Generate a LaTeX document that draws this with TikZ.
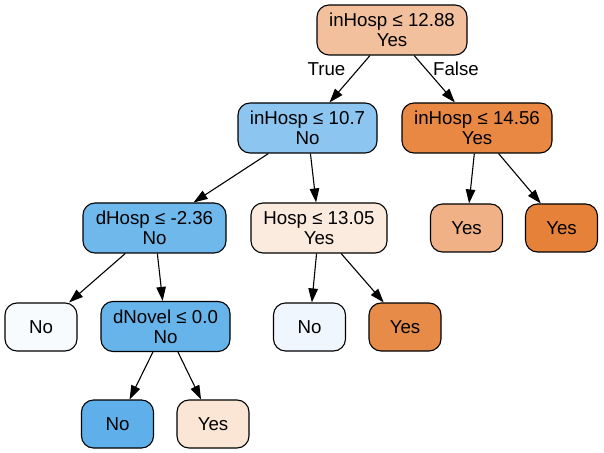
\documentclass[tikz,border=0pt]{standalone}
\usepackage{fontspec}
\setmainfont{Liberation Sans}
\usetikzlibrary{arrows.meta}

% node fills (class "Yes" in orange, class "No" in blue)
\definecolor{cRoot}{HTML}{F2C09C}
\definecolor{cLtA}{HTML}{8BC5F0}
\definecolor{cRtA}{HTML}{E88843}
\definecolor{cDHosp}{HTML}{6FB8EC}
\definecolor{cHosp}{HTML}{FBEADE}
\definecolor{cYesA}{HTML}{EFB185}
\definecolor{cYesB}{HTML}{E58139}
\definecolor{cNoA}{HTML}{F7FBFE}
\definecolor{cDNovel}{HTML}{67B4EB}
\definecolor{cNoB}{HTML}{EFF6FD}
\definecolor{cYesC}{HTML}{E78B48}
\definecolor{cNoC}{HTML}{5FAFEA}
\definecolor{cYesD}{HTML}{FBE5D5}

\begin{document}
\begin{tikzpicture}[x=1bp, y=-1bp,
  tnode/.style={draw=black, line width=1.1bp, rounded corners=12bp,
    align=center, minimum height=50bp, minimum width=72bp,
    inner xsep=4bp, inner ysep=0pt,
    font=\fontsize{18.7bp}{20bp}\selectfont},
  leaf/.style={tnode, minimum height=48bp},
  edge/.style={draw=black, line width=1.1bp,
    -{Triangle[length=14bp, width=9.5bp]}},
  elabel/.style={font=\fontsize{18.7bp}{20bp}\selectfont, inner sep=0pt}]
\useasboundingbox (0,0) rectangle (604,453);

% depth 0
\node[tnode, fill=cRoot, minimum width=150bp] (root) at (392,30) {inHosp ≤ 12.88\\Yes};
% depth 1
\node[tnode, fill=cLtA, minimum width=139bp] (a) at (307.5,128) {inHosp ≤ 10.7\\No};
\node[tnode, fill=cRtA, minimum width=150bp] (b) at (477,128) {inHosp ≤ 14.56\\Yes};
% depth 2
\node[tnode, fill=cDHosp, minimum width=143bp] (c) at (154.5,228) {dHosp ≤ -2.36\\No};
\node[tnode, fill=cHosp, minimum width=136bp] (d) at (319,228) {Hosp ≤ 13.05\\Yes};
\node[leaf, fill=cYesA] (e) at (466.5,228) {Yes};
\node[leaf, fill=cYesB] (f) at (561.5,228) {Yes};
% depth 3
\node[leaf, fill=cNoA] (g) at (41,327) {No};
\node[tnode, fill=cDNovel, minimum width=129bp] (h) at (165.5,326.5) {dNovel ≤ 0.0\\No};
\node[leaf, fill=cNoB] (i) at (309.5,327) {No};
\node[leaf, fill=cYesC] (j) at (405,327) {Yes};
% depth 4
\node[leaf, fill=cNoC] (k) at (117.5,424) {No};
\node[leaf, fill=cYesD] (l) at (213,424) {Yes};

\draw[edge] (root) -- (a);
\draw[edge] (root) -- (b);
\draw[edge] (a) -- (c);
\draw[edge] (a) -- (d);
\draw[edge] (b) -- (e);
\draw[edge] (b) -- (f);
\draw[edge] (c) -- (g);
\draw[edge] (c) -- (h);
\draw[edge] (d) -- (i);
\draw[edge] (d) -- (j);
\draw[edge] (h) -- (k);
\draw[edge] (h) -- (l);

\node[elabel] (tl) at (326.5,69) {True};
\node[elabel] (fl) at (456,69) {False};
\end{tikzpicture}
\end{document}
